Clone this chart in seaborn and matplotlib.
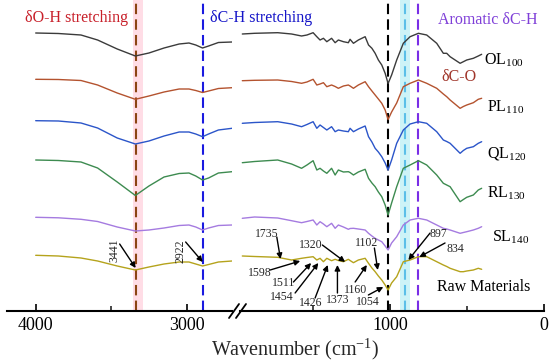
import seaborn as sns
import pandas as pd
import matplotlib.pyplot as plt
import numpy as np

# wavenumber grids (cm-1) for the two halves of the broken axis
wn_high = [4000, 3850, 3700, 3590, 3460, 3340, 3250, 3150, 3050, 2985, 2940, 2895, 2855, 2790, 2700]
wn_low = [1960, 1880, 1730, 1640, 1575, 1540, 1500, 1476, 1455, 1433, 1411, 1380, 1357, 1336, 1303,
          1271, 1260, 1238, 1206, 1162, 1140, 1118, 1097, 1076, 1054, 1032, 1013, 990, 957, 914,
          870, 816, 762, 697, 654, 632, 610, 545, 524, 502, 459, 427, 405]

# offset transmittance (a.u.)
names = ["OL100", "PL110", "QL120", "RL130", "SL140", "Raw"]
high = {
    "OL100": [278, 277.5, 276, 271, 262, 255, 258, 263, 267, 268, 266, 263, 265, 268.5, 269],
    "PL110": [231.7, 231.5, 230.5, 226, 218, 211.7, 215, 219, 222, 222, 220.5, 218.5, 220, 222.5, 223.3],
    "QL120": [190.3, 190, 188, 183, 173, 167, 170, 175, 179, 179, 177, 174.3, 177, 181, 182.7],
    "RL130": [151, 150.5, 149, 143, 129, 115.5, 125, 134, 137.5, 138, 135, 131, 133, 138, 139.3],
    "SL140": [93.7, 93.2, 91.7, 89.5, 84, 80, 81, 83, 85.5, 86, 84, 81, 83, 85.5, 86],
    "Raw": [55.7, 55, 53, 50, 45, 41, 44, 47, 49, 49, 47, 45, 46.5, 49, 50],
}
low = {
    "OL100": [277, 277.7, 278.3, 277, 275, 276, 278.3, 274.3, 271, 272.7, 269.3, 272.7, 268.3, 271, 269.3,
              268.3, 271.7, 267.7, 271, 274.3, 266, 262.7, 257.7, 251, 246, 237.7, 227.5, 236, 251, 267.7,
              274.3, 277.7, 276, 267.7, 257.7, 257.7, 254.3, 247.7, 249.3, 251, 252.7, 255, 256.7],
    "PL110": [230.3, 230.7, 231, 229.5, 227.7, 229, 231.7, 226, 227, 228.3, 224.3, 226, 224.5, 222.7, 225,
              226, 225, 222.7, 226, 229.3, 224.3, 220, 216, 212, 207.7, 201, 191.5, 199, 208, 224.3,
              227.7, 231, 227.7, 222.7, 217, 214.3, 211, 202.7, 204.5, 206, 208.3, 211.7, 212.7],
    "QL120": [187.7, 188.5, 189.3, 187, 184.3, 186.5, 189.3, 182.7, 186, 183.5, 181, 184.3, 179.3, 181, 180,
              179.3, 182.7, 179.3, 182, 185, 174.3, 169, 162.7, 159, 154.3, 148, 141, 151, 167.7, 181,
              187, 189.3, 187.7, 179.3, 171, 169.5, 167.7, 157.7, 160.5, 162.7, 164.3, 167.7, 169.3],
    "RL130": [148.3, 149.5, 151, 147, 142.7, 146, 150.3, 141, 142.7, 140, 137.7, 142.7, 136, 141, 139,
              139.3, 138.5, 136, 139, 141.7, 132.7, 128, 124.3, 119, 114.3, 106, 96, 108, 124.3, 142.7,
              146, 150.3, 146, 136, 127.7, 126, 124.3, 109.3, 111.5, 113.7, 116, 121, 122.7],
    "SL140": [92.7, 94, 93, 90.3, 88.3, 89.5, 91, 86, 89.3, 87, 84.3, 87.7, 82.7, 86, 84,
              81.7, 82.5, 82.7, 82, 81, 77.7, 75, 72.7, 71, 69.3, 65, 61, 68, 74.3, 86,
              91, 92.7, 91, 86, 82.7, 82, 81, 77.7, 78.5, 79.3, 81, 82.7, 84.3],
    "Raw": [55, 54.5, 53.7, 51, 52.7, 53.5, 54.3, 51, 52.7, 49.3, 52.7, 50.3, 51.7, 50.5, 49.3,
            51.7, 50.5, 48.3, 51, 52.7, 47.7, 43, 39.3, 35, 31, 26, 21, 28, 34.3, 49.3,
            51, 54.3, 54.3, 49.3, 46, 44.5, 42.7, 39.3, 39.3, 40, 41, 42.7, 41.7],
}
colors = ["#3b3b3b", "#b4532f", "#2b55c9", "#3d8b50", "#a57be0", "#b5a31c"]
labels = [r"OL$_{\mathrm{100}}$", r"PL$_{\mathrm{110}}$", r"QL$_{\mathrm{120}}$",
          r"RL$_{\mathrm{130}}$", r"SL$_{\mathrm{140}}$", "Raw Materials"]
label_pos = [(390, 251), (370, 204), (370, 158), (370, 118), (338, 74), (695, 24)]

# peak annotations: (text, text pos, arrow tail, arrow head)
peaks_high = [("3441", (3477, 61), (3444, 67), (3338, 43)),
              ("2922", (3040, 60), (3007, 69), (2894, 49))]
peaks_low = [("1735", (1799, 77), (1736, 74), (1712, 52)),
             ("1598", (1844, 38), (1779, 41), (1584, 50)),
             ("1511", (1693, 28), (1628, 29), (1513, 48)),
             ("1454", (1703, 14), (1617, 18), (1466, 48)),
             ("1426", (1513, 8), (1487, 13), (1405, 46)),
             ("1373", (1342, 11), (1342, 18), (1342, 46)),
             ("1320", (1513, 66), (1440, 66), (1292, 49)),
             ("1102", (1151, 68), (1102, 63), (1080, 41)),
             ("1160", (1227, 21), (1227, 29), (1151, 46)),
             ("1054", (1143, 9), (1141, 16), (1044, 24)),
             ("897", (686, 77), (740, 78), (881, 51)),
             ("834", (578, 62), (643, 68), (810, 54))]

sns.set_theme(style="white")
plt.rcParams["font.family"] = ["Liberation Serif", "DejaVu Serif"]
plt.rcParams["mathtext.fontset"] = "custom"
plt.rcParams["mathtext.rm"] = "Liberation Serif"
plt.rcParams["mathtext.default"] = "rm"

fig = plt.figure(figsize=(5.5, 3.61), dpi=100)
ax1 = fig.add_axes([7 / 550, 50 / 361, 225 / 550, 311 / 361])
ax2 = fig.add_axes([240 / 550, 50 / 361, 304 / 550, 311 / 361])


def long_df(wn, block):
    rows = []
    for n in names:
        for w, v in zip(wn, block[n]):
            rows.append((n, w, v))
    return pd.DataFrame(rows, columns=["sample", "wn", "T"])


# shaded bands + marker lines
dash = (0, (5, 2.5))
ax1.axvspan(3291, 3358, color="#ffdde6", lw=0, zorder=0)
ax1.axvline(3335, color="#8b4513", lw=1.5, ls=dash, zorder=1)
ax1.axvline(2895, color="#1a1ae0", lw=1.5, ls=dash, zorder=1)
ax2.axvspan(870, 935, color="#cdf3f7", lw=0, zorder=0)
ax2.axvline(1013, color="black", lw=1.5, ls=dash, zorder=1)
ax2.axvline(903, color="#5bbfe8", lw=1.5, ls=dash, zorder=1)
ax2.axvline(818, color="#7a2ee6", lw=1.5, ls=dash, zorder=1)

for ax, wn, block in [(ax1, wn_high, high), (ax2, wn_low, low)]:
    sns.lineplot(data=long_df(wn, block), x="wn", y="T", hue="sample", hue_order=names,
                 palette=colors, sort=False, estimator=None, lw=1.0, legend=False, ax=ax, zorder=2)

ax1.set_xlim(4190, 2700)
ax2.set_xlim(1975, 0)
for ax in (ax1, ax2):
    ax.set_ylim(0, 311)
    ax.set_xlabel("")
    ax.set_ylabel("")
    ax.set_yticks([])
    for s in ["top", "left", "right"]:
        ax.spines[s].set_visible(False)
    ax.spines["bottom"].set_linewidth(1.5)
    ax.spines["bottom"].set_color("black")
    ax.patch.set_alpha(0)
    ax.tick_params(axis="x", which="major", direction="in", length=5, width=1.2,
                   labelsize=13, pad=4, colors="black", bottom=True)
    ax.tick_params(axis="x", which="minor", direction="in", length=3.5, width=1.2, bottom=True)
ax1.set_xticks([4000, 3000])
ax1.set_xticks([3500], minor=True)
ax2.set_xticks([1000, 0])
ax2.set_xticks([1500, 500], minor=True)

arrow = dict(arrowstyle="-|>", color="black", lw=1.0, mutation_scale=8, shrinkA=0, shrinkB=0)
for txt, tp, tail, head in peaks_high:
    ax1.annotate("", xy=head, xytext=tail, arrowprops=arrow)
    ax1.text(*tp, txt, rotation=90, ha="center", va="center", fontsize=8.5)
for txt, tp, tail, head in peaks_low:
    ax2.annotate("", xy=head, xytext=tail, arrowprops=arrow)
    ax2.text(*tp, txt, ha="center", va="center", fontsize=8.5)

for lab, (x, y) in zip(labels, label_pos):
    ax2.text(x, y, lab, ha="left", va="center", fontsize=11.5, color="black")

ax1.text(3728, 293, "δO-H stretching", ha="center", va="center", fontsize=11.5, color="#c8202a")
ax1.text(2848, 293, "δC-H stretching", ha="left", va="center", fontsize=11.5, color="#1515c8")
ax2.text(688, 291, "Aromatic δC-H", ha="left", va="center", fontsize=11.5, color="#7f3fd8")
ax2.text(664, 234, "δC-O", ha="left", va="center", fontsize=11.5, color="#a0352a")

# axis break marks
for x0 in (229, 236):
    fig.add_artist(plt.Line2D([x0 / 550, (x0 + 10) / 550], [1 - 318 / 361, 1 - 304 / 361],
                              color="black", lw=1.3, transform=fig.transFigure))

fig.text(295 / 550, 1 - 349 / 361, r"Wavenumber (cm$^{\mathrm{-1}}$)", ha="center", va="center", fontsize=14.5)

fig.savefig("out.png", dpi=100)
